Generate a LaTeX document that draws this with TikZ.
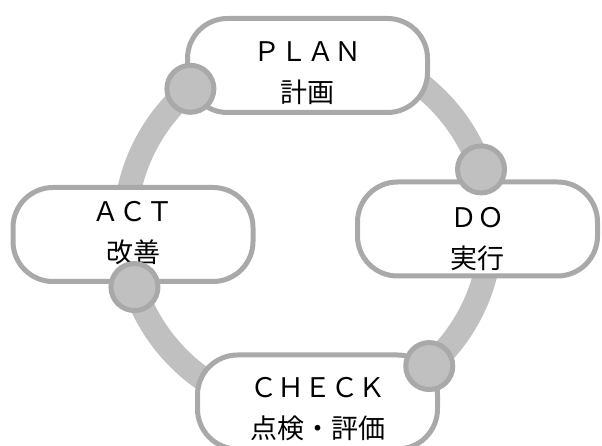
\documentclass[tikz,border=0pt]{standalone}
\usepackage{fontspec}
\newfontfamily\jpfont{Noto Sans CJK JP}
\usetikzlibrary{positioning}
\definecolor{ringgray}{HTML}{C0C0C0}
\definecolor{edgegray}{HTML}{A9A9A9}

\begin{document}
\begin{tikzpicture}[x=1pt,y=1pt,
  stage/.style={
    draw=edgegray,
    line width=5pt,
    fill=white,
    rounded corners=40pt,
    minimum width=240pt,
    minimum height=94pt
  },
  caption/.style={
    align=center,
    font=\jpfont\fontsize{27}{41}\selectfont
  },
  joint/.style={
    circle,
    draw=edgegray,
    line width=5pt,
    fill=ringgray,
    inner sep=0pt,
    minimum size=47pt
  }
]
\useasboundingbox (0,0) rectangle (602,446);
% Ring, drawn behind the stages.
\coordinate (hub) at (308,217);
\draw[ringgray,line width=24pt] (hub) circle[radius=183];
\node[stage] (plan) at (307.5,380.5) {};
  \node[stage] (do) at (477.5,217) {};
  \node[stage] (check) at (317.5,44) {};
  \node[stage] (act) at (133,211.5) {};
\node[caption] (plan-text) at ([yshift=-8pt]plan.center) {ＰＬＡＮ\\計画};
  \node[caption] (do-text) at ([yshift=-10pt]do.center) {ＤＯ\\実行};
  \node[caption] (check-text) at ([yshift=-7pt]check.center) {ＣＨＥＣＫ\\点検・評価};
  \node[caption] (act-text) at ([yshift=1pt]act.center) {ＡＣＴ\\改善};
% Joints sit on the ring, over the stage borders.
\node[joint] (plan-act) at ([shift={(130:183)}]hub) {};
  \node[joint] (plan-do) at ([shift={(19:183)}]hub) {};
  \node[joint] (do-check) at ([shift={(-48.5:183)}]hub) {};
  \node[joint] (check-act) at ([shift={(198.5:183)}]hub) {};
\end{tikzpicture}
\end{document}
